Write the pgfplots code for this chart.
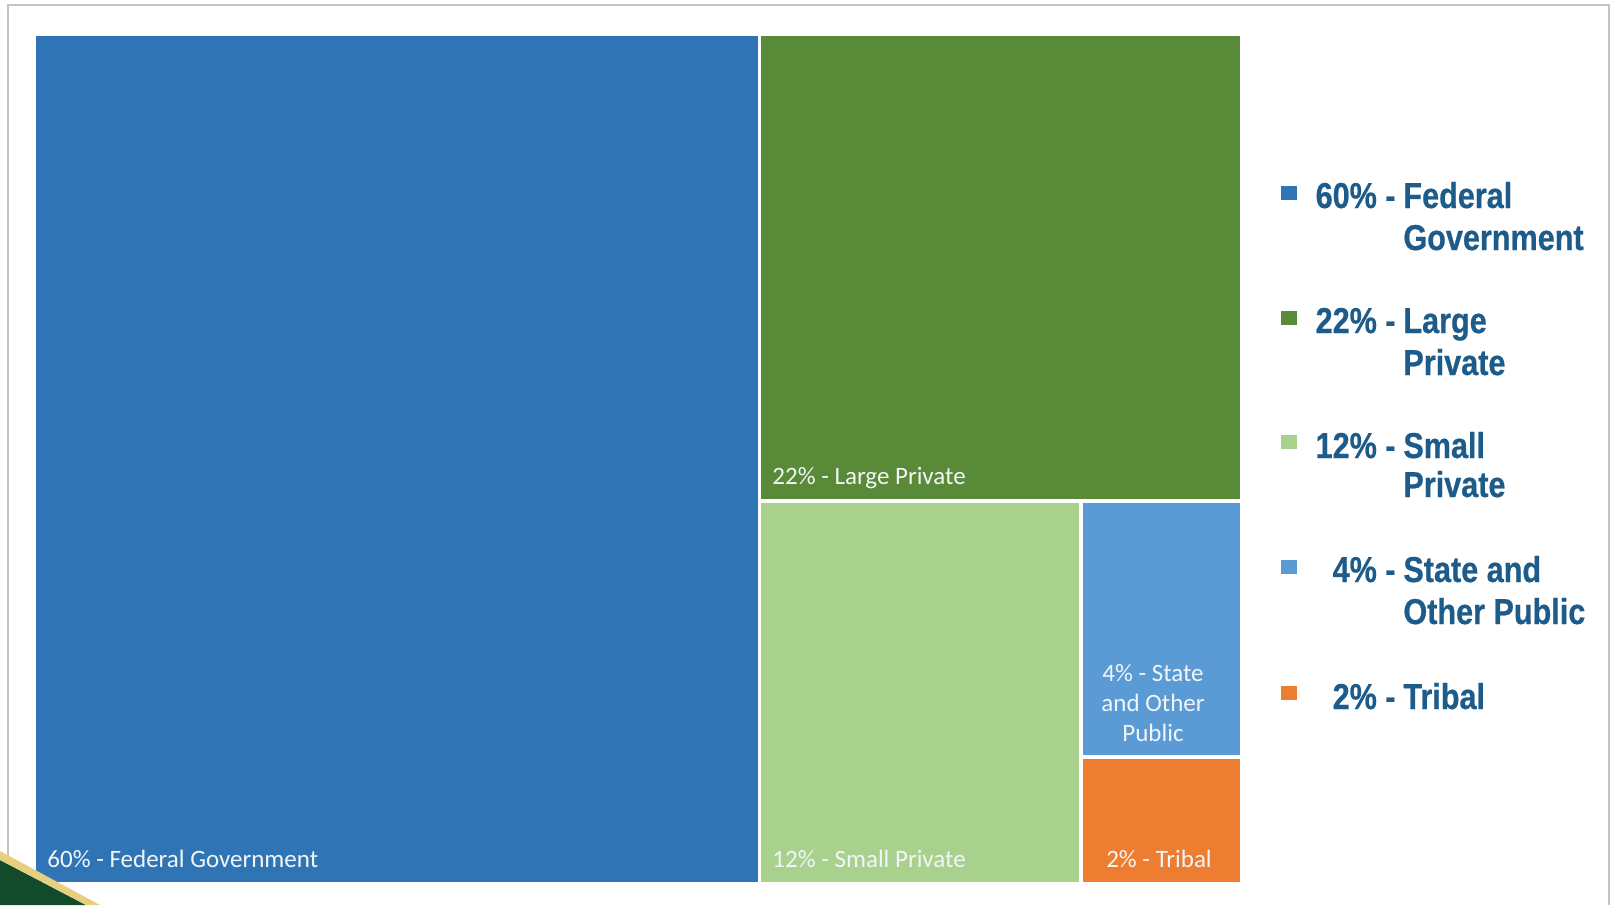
\documentclass[border=0pt]{standalone}
\usepackage{pgfplots}
\pgfplotsset{compat=1.18}
\usepackage{fontspec}
\setmainfont{Carlito}
\newfontfamily\legfont{Liberation Sans}[FakeStretch=0.85,FakeBold=0.6]
\definecolor{fed}{HTML}{2F75B5}
\definecolor{lgp}{HTML}{588A38}
\definecolor{smp}{HTML}{A9D18E}
\definecolor{stp}{HTML}{5B9BD5}
\definecolor{trb}{HTML}{ED7D31}
\definecolor{legtxt}{HTML}{1D5C8A}
\definecolor{framec}{HTML}{C4C4C4}
\definecolor{decog}{HTML}{124A2C}
\definecolor{decoy}{HTML}{E6CF7E}
\definecolor{lab}{HTML}{F2F5F8}
\begin{document}
\begin{tikzpicture}
\begin{axis}[at={(0,0)},anchor=south west,
  width=805.5pt,height=452.5pt,scale only axis,
  xmin=0,xmax=1611,ymin=0,ymax=905,y dir=reverse,
  hide axis,clip=false]
\coordinate (sw) at (axis cs:0,905);
\coordinate (ne) at (axis cs:1611,0);
% treemap tiles (pixel corners of each tile)
\addplot[fill=fed,draw=none] coordinates {(36,36) (758,36) (758,882) (36,882)} -- cycle;
\addplot[fill=lgp,draw=none] coordinates {(761,36) (1240,36) (1240,499) (761,499)} -- cycle;
\addplot[fill=smp,draw=none] coordinates {(761,503) (1079,503) (1079,882) (761,882)} -- cycle;
\addplot[fill=stp,draw=none] coordinates {(1083,503) (1240,503) (1240,755) (1083,755)} -- cycle;
\addplot[fill=trb,draw=none] coordinates {(1083,759) (1240,759) (1240,882) (1083,882)} -- cycle;
% legend swatches
\addplot[fill=fed,draw=none] coordinates {(1281,186) (1297,186) (1297,200) (1281,200)} -- cycle;
\addplot[fill=lgp,draw=none] coordinates {(1281,311) (1297,311) (1297,325) (1281,325)} -- cycle;
\addplot[fill=smp,draw=none] coordinates {(1281,435) (1297,435) (1297,449) (1281,449)} -- cycle;
\addplot[fill=stp,draw=none] coordinates {(1281,560) (1297,560) (1297,574) (1281,574)} -- cycle;
\addplot[fill=trb,draw=none] coordinates {(1281,686) (1297,686) (1297,700) (1281,700)} -- cycle;
% frame
\draw[framec,line width=1pt] (axis cs:8,905) -- (axis cs:8,5) -- (axis cs:1609,5) -- (axis cs:1609,905);
% corner decoration
\fill[decog] (axis cs:0,860) -- (axis cs:86,905) -- (axis cs:0,905) -- cycle;
\fill[decoy] (axis cs:0,851) -- (axis cs:100,905) -- (axis cs:86,905) -- (axis cs:0,860) -- cycle;
% tile labels
\begin{scope}[every node/.style={inner sep=0pt,text=lab,font=\fontsize{12.5}{15}\selectfont}]
\node[anchor=base west] at (axis cs:47,867) {60\% - Federal Government};
\node[anchor=base west] at (axis cs:772,484) {22\% - Large Private};
\node[anchor=base west] at (axis cs:772,867) {12\% - Small Private};
\node[align=center] at (axis cs:1153,703) {4\% - State\\and Other\\Public};
\node[anchor=base] at (axis cs:1159,867) {2\% - Tribal};
\end{scope}
% legend text
\begin{scope}[every node/.style={inner sep=0pt,text=legtxt,font=\fontsize{18}{21}\legfont\bfseries}]
\node[anchor=base east] at (axis cs:1396,208) {60\% -};
\node[anchor=base west] at (axis cs:1403,208) {Federal};
\node[anchor=base west] at (axis cs:1403,250) {Government};
\node[anchor=base east] at (axis cs:1396,333) {22\% -};
\node[anchor=base west] at (axis cs:1403,333) {Large};
\node[anchor=base west] at (axis cs:1403,375) {Private};
\node[anchor=base east] at (axis cs:1396,458) {12\% -};
\node[anchor=base west] at (axis cs:1403,458) {Small};
\node[anchor=base west] at (axis cs:1403,497) {Private};
\node[anchor=base east] at (axis cs:1396,582) {4\% -};
\node[anchor=base west] at (axis cs:1403,582) {State and};
\node[anchor=base west] at (axis cs:1403,624) {Other Public};
\node[anchor=base east] at (axis cs:1396,709) {2\% -};
\node[anchor=base west] at (axis cs:1403,709) {Tribal};
\end{scope}
\end{axis}
\pgfresetboundingbox
\path (sw) rectangle (ne);
\end{tikzpicture}
\end{document}
